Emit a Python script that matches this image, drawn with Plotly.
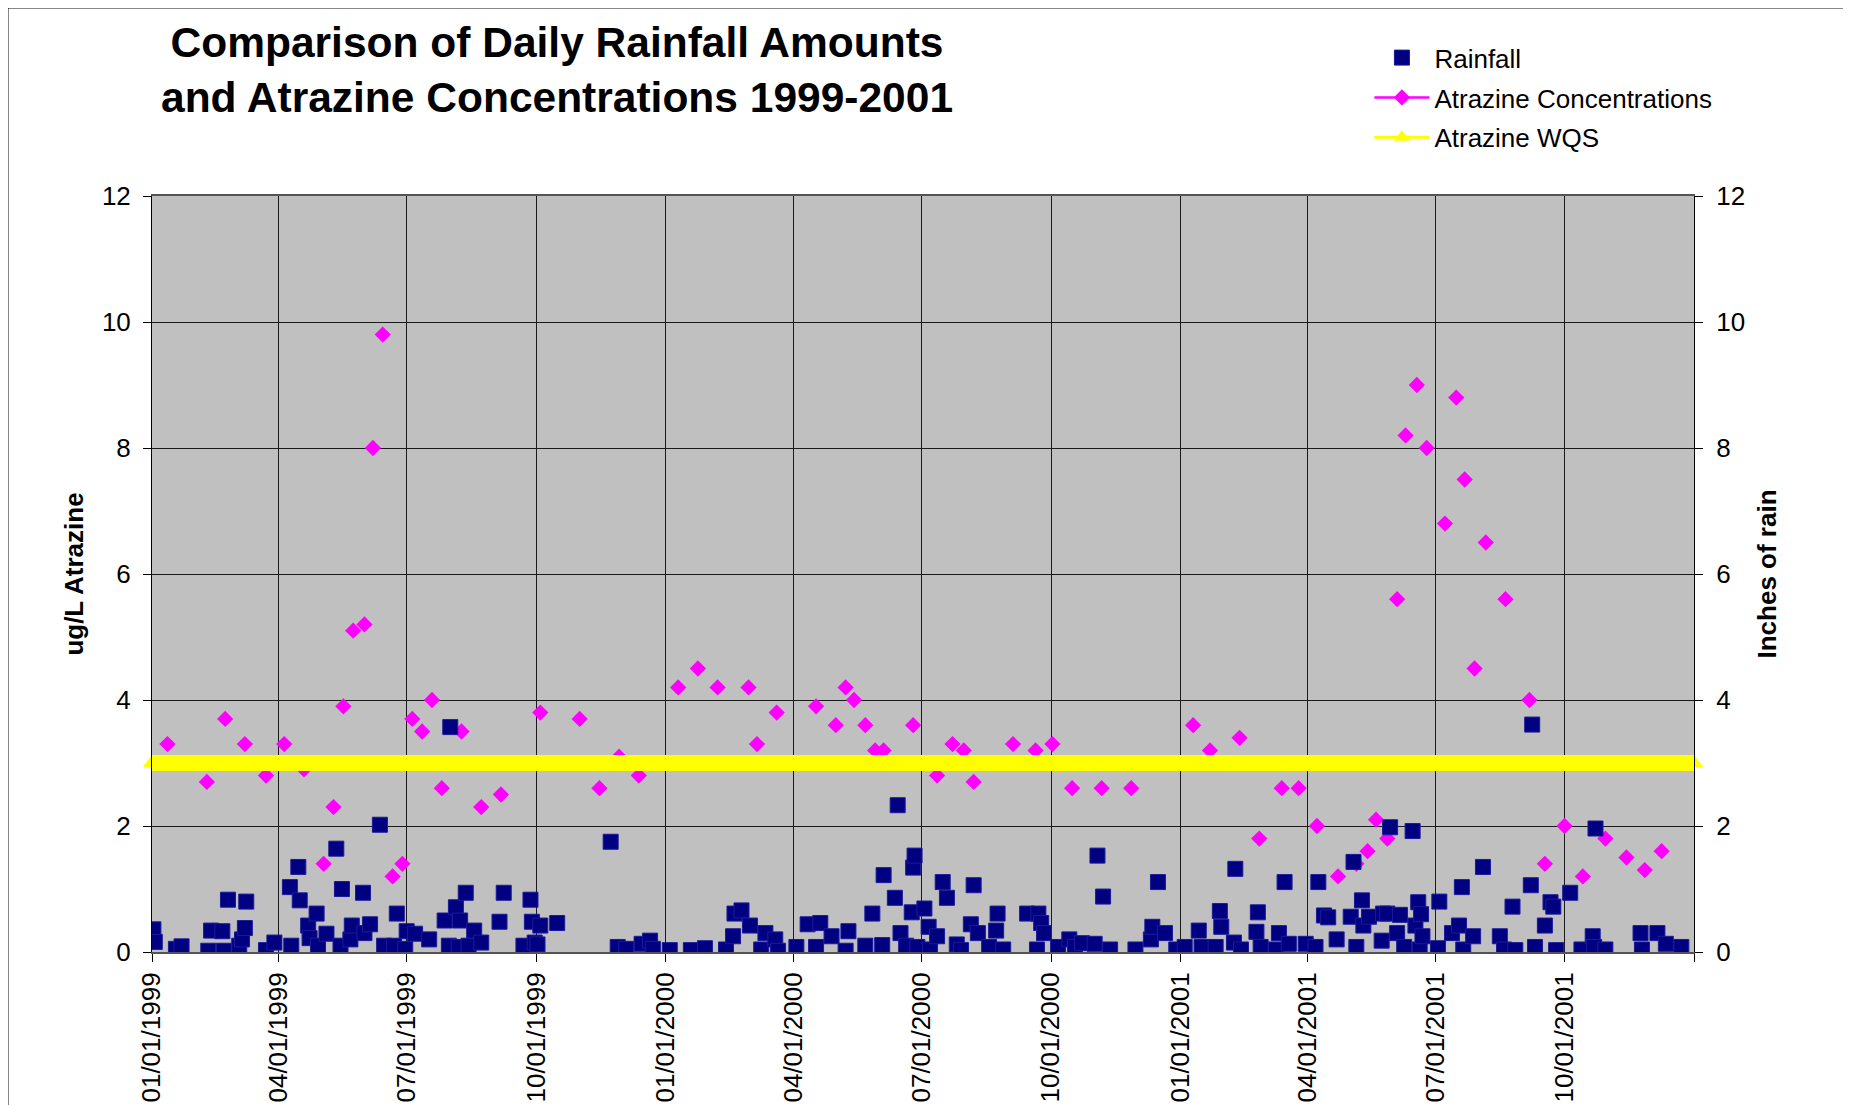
import pandas as pd
import plotly.graph_objects as go

# days counted from 01/01/1999
rain_day = [1, 2, 17, 21, 40, 42, 50, 51, 54, 62, 64, 66, 67, 81, 87, 98, 99, 104, 105, 111,
            112, 117, 118, 124, 131, 134, 135, 141, 142, 150, 151, 155, 162, 165, 172, 174, 180, 181, 187, 197,
            208, 211, 212, 216, 218, 219, 223, 225, 229, 234, 247, 250, 264, 269, 270, 272, 274, 276, 288, 326,
            331, 337, 348, 354, 356, 368, 383, 393, 408, 413, 414, 419, 425, 433, 436,
            443, 445, 458, 466, 472, 475, 483, 493, 495, 507, 512, 519, 520, 528, 530, 532, 536, 540, 541, 542,
            544, 549, 552, 553, 558, 562, 565, 572, 575, 582, 584, 587, 595, 600, 601, 605, 622, 629, 630, 632,
            634, 644, 652, 656,
            661, 670, 672, 676, 681, 699, 710, 711, 715, 720, 728, 734, 744, 746, 756, 759, 760, 769, 770, 774,
            785, 786, 788, 799, 801, 805, 808, 820, 827, 829, 833, 836, 842, 852, 854, 856, 860, 861, 865, 874,
            875, 878, 880, 885, 887, 890, 896, 898, 900, 901, 902, 903, 914, 915, 924, 929, 931, 932, 939, 946,
            958, 961, 967, 969, 980, 981, 983, 990, 994, 996, 998, 1008, 1016, 1024, 1025, 1026, 1033, 1058, 1059,
            1070, 1076, 1087]
rain_in = [0.36, 0.16, 0.05, 0.09, 0.02, 0.34, 0.33, 0.02, 0.83, 0.10, 0.20, 0.38, 0.80, 0.03, 0.15, 1.03, 0.10, 1.35, 0.82, 0.42,
           0.22, 0.61, 0.10, 0.29, 1.64, 0.10, 1.00, 0.20, 0.42, 0.94, 0.30, 0.44, 2.02, 0.10, 0.10, 0.61, 0.05, 0.33, 0.29, 0.20,
           0.50, 0.10, 3.57, 0.71, 0.08, 0.50, 0.94, 0.10, 0.34, 0.15, 0.48, 0.94, 0.10, 0.83, 0.48, 0.15, 0.12, 0.42, 0.46, 1.75,
           0.08, 0.05, 0.13, 0.18, 0.05, 0.03, 0.03, 0.06, 0.04, 0.25, 0.61, 0.66, 0.42, 0.04, 0.30,
           0.20, 0.02, 0.08, 0.44, 0.08, 0.46, 0.25, 0.02, 0.33, 0.10, 0.61, 0.11, 1.22, 0.86, 2.33, 0.30, 0.10, 0.63, 1.34, 1.53,
           0.08, 0.69, 0.40, 0.04, 0.25, 1.11, 0.86, 0.12, 0.03, 0.44, 1.06, 0.30, 0.08, 0.34, 0.61, 0.04, 0.61, 0.04, 0.61, 0.46,
           0.30, 0.08, 0.20, 0.08,
           0.14, 0.13, 1.53, 0.88, 0.04, 0.04, 0.20, 0.40, 1.11, 0.30, 0.04, 0.08, 0.34, 0.08, 0.08, 0.65, 0.40, 0.15, 1.32, 0.04,
           0.32, 0.63, 0.08, 0.04, 0.30, 1.11, 0.13, 0.13, 0.08, 1.11, 0.58, 0.55, 0.20, 0.56, 1.43, 0.08, 0.82, 0.42, 0.56, 0.18,
           0.61, 0.61, 1.98, 0.30, 0.59, 0.08, 1.92, 0.42, 0.79, 0.04, 0.60, 0.25, 0.06, 0.80, 0.30, 0.42, 1.03, 0.04, 0.25, 1.35,
           0.25, 0.04, 0.72, 0.03, 1.06, 3.61, 0.08, 0.42, 0.79, 0.72, 0.03, 0.94, 0.04, 0.25, 0.08, 1.96, 0.04, 0.30, 0.04,
           0.30, 0.13, 0.08]

atz_day = [11, 39, 52, 66, 81, 94, 108, 122, 129, 136, 143, 151, 157, 164, 171, 178, 185, 192, 199, 206,
           220, 234, 248, 276, 304, 318, 332, 346, 374, 388, 402, 424, 430, 444, 472, 486, 493, 499, 507, 514,
           520, 541, 558, 569, 577, 584, 612, 628, 640, 654, 675, 696, 740, 752, 773, 787, 803, 815, 828, 843,
           856, 864, 870, 878, 885, 891, 899, 906, 919, 927, 933, 940, 948, 962, 979, 990, 1004, 1017, 1033, 1048,
           1061, 1073]
atz_ugl = [3.3, 2.7, 3.7, 3.3, 2.8, 3.3, 2.9, 1.4, 2.3, 3.9, 5.1, 5.2, 8.0, 9.8, 1.2, 1.4, 3.7, 3.5, 4.0, 2.6,
           3.5, 2.3, 2.5, 3.8, 3.7, 2.6, 3.1, 2.8, 4.2, 4.5, 4.2, 4.2, 3.3, 3.8, 3.9, 3.6, 4.2, 4.0, 3.6, 3.2,
           3.2, 3.6, 2.8, 3.3, 3.2, 2.7, 3.3, 3.2, 3.3, 2.6, 2.6, 2.6, 3.6, 3.2, 3.4, 1.8, 2.6, 2.6, 2.0, 1.2,
           1.4, 1.6, 2.1, 1.8, 5.6, 8.2, 9.0, 8.0, 6.8, 8.8, 7.5, 4.5, 6.5, 5.6, 4.0, 1.4, 2.0, 1.2, 1.8, 1.5,
           1.3, 1.6]

wqs_date = ["1999-01-01", "2002-01-01"]
wqs_val = [3, 3]

tick_dates = ["1999-01-01", "1999-04-01", "1999-07-01", "1999-10-01", "2000-01-01", "2000-04-01",
              "2000-07-01", "2000-10-01", "2001-01-01", "2001-04-01", "2001-07-01", "2001-10-01", "2002-01-01"]
tick_text = ["01/01/1999", "04/01/1999", "07/01/1999", "10/01/1999", "01/01/2000", "04/01/2000",
             "07/01/2000", "10/01/2000", "01/01/2001", "04/01/2001", "07/01/2001", "10/01/2001", ""]

base = pd.Timestamp("1999-01-01")
rain_dates = base + pd.to_timedelta(rain_day, unit="D")
atz_dates = base + pd.to_timedelta(atz_day, unit="D")

# blank cells between samples, so the line only shows in the legend
atz_x, atz_y = [], []
for d, v in zip(atz_dates, atz_ugl):
    atz_x += [d, None]
    atz_y += [v, None]

FONT = "Arial, Liberation Sans, Helvetica, sans-serif"

fig = go.Figure()
fig.add_trace(go.Scatter(x=atz_x, y=atz_y, mode="lines+markers", name="Atrazine Concentrations",
                         connectgaps=False, line=dict(color="#FF00FF", width=2.5), legendrank=2, legendgroup="b",
                         marker=dict(symbol="diamond", size=12.5, color="#FF00FF")))
fig.add_trace(go.Scatter(x=wqs_date, y=wqs_val, mode="lines+markers", name="Atrazine WQS", showlegend=False,
                         line=dict(color="#FFFF00", width=16), cliponaxis=False,
                         marker=dict(symbol="triangle-up", size=16, color="#FFFF00")))
# thin legend entry for the WQS line
fig.add_trace(go.Scatter(x=[None], y=[None], mode="lines+markers", name="Atrazine WQS", legendrank=3,
                         legendgroup="c", line=dict(color="#FFFF00", width=3),
                         marker=dict(symbol="triangle-up", size=14, color="#FFFF00")))
fig.add_trace(go.Scatter(x=rain_dates, y=rain_in, mode="markers", name="Rainfall", yaxis="y2", legendrank=1,
                         legendgroup="a",
                         marker=dict(symbol="square", size=15, color="#000080",
                                     line=dict(color="#1a1a9a", width=1))))

fig.update_layout(
    width=1851, height=1105,
    margin=dict(l=144, r=165, t=188, b=161, pad=0, autoexpand=False),
    paper_bgcolor="white", plot_bgcolor="#C0C0C0",
    font=dict(family=FONT, color="black", size=26),
    showlegend=True,
    legend=dict(x=0.7895, y=1.214, xanchor="left", yanchor="top", bgcolor="rgba(0,0,0,0)",
                font=dict(size=26), itemwidth=55, tracegroupgap=3),
    xaxis=dict(type="date", range=["1999-01-01", "2002-01-01"], tickvals=tick_dates, ticktext=tick_text,
               tickangle=-90, tickfont=dict(size=26), ticks="outside", ticklen=8, tickcolor="black",
               showgrid=True, gridcolor="#1a1a1a", gridwidth=1, automargin=False,
               showline=True, linecolor="#555555", linewidth=2, mirror=True, zeroline=False),
    yaxis=dict(range=[0, 12], dtick=2, ticks="outside", ticklen=8, tickcolor="black",
               tickfont=dict(size=26), showgrid=True, gridcolor="#1a1a1a", gridwidth=1,
               showline=True, linecolor="black", linewidth=1, zeroline=False, automargin=False,
               ticklabelstandoff=7,
               title=dict(text="<b>ug/L Atrazine</b>", font=dict(size=26), standoff=10)),
    yaxis2=dict(range=[0, 12], dtick=2, overlaying="y", side="right", ticks="outside", ticklen=8,
                tickcolor="black", tickfont=dict(size=26), showgrid=False, automargin=False,
                showline=True, linecolor="black", linewidth=1, zeroline=False, ticklabelstandoff=8,
                title=dict(text="<b>Inches of rain</b>", font=dict(size=26), standoff=13)),
    annotations=[dict(text="<b>Comparison of Daily Rainfall Amounts<br>and Atrazine Concentrations 1999-2001</b>",
                      xref="paper", yref="paper", x=0.2626, y=1.1667, xanchor="center", yanchor="middle",
                      showarrow=False, font=dict(size=42.5, family=FONT))],
    shapes=[dict(type="rect", xref="paper", yref="paper", x0=-0.0934, x1=1.0979, y0=-0.209, y1=1.2487,
                 line=dict(color="black", width=1), fillcolor="rgba(0,0,0,0)", layer="below")],
)

fig.write_html("out.html")
